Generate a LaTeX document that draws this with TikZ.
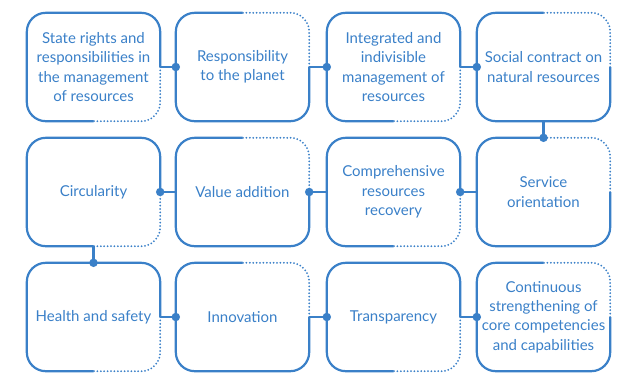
\documentclass[tikz,border=0pt]{standalone}
\usepackage{fontspec}
\setmainfont{Lato}
\definecolor{pblue}{RGB}{58,128,200}
\tikzset{
  prbox/.style={minimum width=133pt, minimum height=108pt, inner sep=0pt, align=center,
    text=pblue, font=\fontsize{15}{19.3}\selectfont},
  solidedge/.style={draw=pblue, line width=2.2pt, rounded corners=19pt},
  dotedge/.style={draw=pblue, line width=2pt, rounded corners=19pt, line cap=round, dash pattern=on 0pt off 3.4pt},
  link/.style={draw=pblue, line width=2.2pt},
  jdot/.style={circle, fill=pblue, inner sep=0pt, minimum size=8.5pt}
}
\begin{document}
\begin{tikzpicture}[x=1pt,y=-1pt]
\useasboundingbox (0,0) rectangle (628,383);
\node[prbox] (pr1) at (93.5,67){State rights and\\responsibilities in\\the management\\of resources};
\node[prbox] (pr2) at (242.5,67){Responsibility\\to the planet};
\node[prbox] (pr3) at (393.5,67){Integrated and\\indivisible\\management of\\resources};
\node[prbox] (pr4) at (543.5,67){Social contract on\\natural resources};
\node[prbox] (pr5) at (93.5,192){Circularity};
\node[prbox] (pr6) at (242.5,192){Value addition};
\node[prbox] (pr7) at (393.5,192){Comprehensive\\resources\\recovery};
\node[prbox] (pr8) at (543.5,192){Service\\orientation};
\node[prbox] (pr9) at (93.5,317){Health and safety};
\node[prbox] (pr10) at (242.5,317){Innovation};
\node[prbox] (pr11) at (393.5,317){Transparency};
\node[prbox] (pr12) at (543.5,317){Continuous\\strengthening of\\core competencies\\and capabilities};
% odd columns: dotted bottom right
\foreach \b in {pr1,pr3,pr5,pr7,pr9,pr11}{
  \draw[solidedge] (\b.south) -| (\b.north west) -| (\b.east);
  \draw[dotedge] (\b.east) |- (\b.south);
}
% even columns: dotted top right
\foreach \b in {pr2,pr4,pr6,pr8,pr10,pr12}{
  \draw[solidedge] (\b.north) -| (\b.south west) -| (\b.east);
  \draw[dotedge] (\b.east) |- (\b.north);
}
% links
\draw[link](pr1.east) -- (pr2.west);
\draw[link](pr2.east) -- (pr3.west);
\draw[link](pr3.east) -- (pr4.west);
\draw[link](pr4.south) -- (pr8.north);
\draw[link](pr8.west) -- (pr7.east);
\draw[link](pr7.west) -- (pr6.east);
\draw[link](pr6.west) -- (pr5.east);
\draw[link](pr5.south) -- (pr9.north);
\draw[link](pr9.east) -- (pr10.west);
\draw[link](pr10.east) -- (pr11.west);
\draw[link](pr11.east) -- (pr12.west);
\foreach \j in {pr2.west,pr3.west,pr4.west,pr8.north,pr7.east,pr6.east,pr5.east,pr9.north,pr10.west,pr11.west,pr12.west}
  \node[jdot] at (\j){};

\end{tikzpicture}
\end{document}
